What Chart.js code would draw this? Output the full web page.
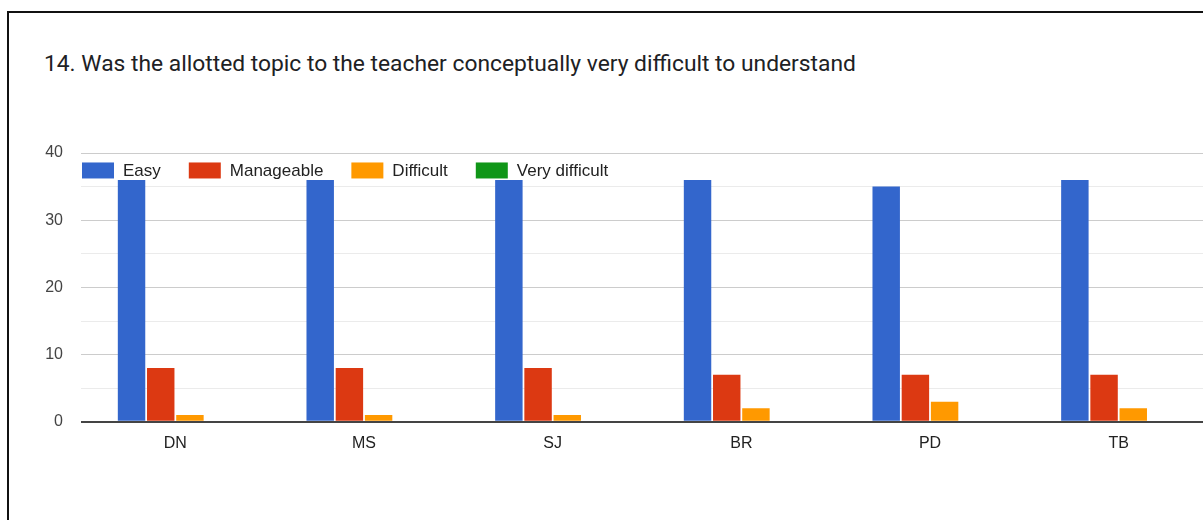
<!DOCTYPE html>
<html>
<head>
<meta charset="utf-8">
<script src="https://cdn.jsdelivr.net/npm/chart.js@4.4.1/dist/chart.umd.min.js"></script>
<style>
  html, body { margin: 0; padding: 0; background: #fff; overflow: hidden; width: 1203px; height: 520px; }
  .frame { position: absolute; left: 7px; top: 11px; width: 1400px; height: 700px;
           border-left: 2px solid #111; border-top: 2px solid #111; }
  h1 { position: absolute; left: 44px; top: 50px; margin: 0; font: 400 22.8px Roboto, sans-serif;
       color: #202124; white-space: nowrap; }
  .box { position: absolute; left: 0; top: 0; width: 1213px; height: 520px; }
</style>
</head>
<body>
<div class="frame"></div>
<h1>14. Was the allotted topic to the teacher conceptually very difficult to understand</h1>
<div class="box"><canvas id="ch"></canvas></div>
<script>
  // respostas por professor
  const professores = ["DN", "MS", "SJ", "BR", "PD", "TB"];
  const facil      = [36, 36, 36, 36, 35, 36];
  const manejavel  = [8, 8, 8, 7, 7, 7];
  const dificil    = [1, 1, 1, 2, 3, 2];
  const muitoDif   = [0, 0, 0, 0, 0, 0];
  const niveis = ["Easy", "Manageable", "Difficult", "Very difficult"];
  const cores  = ["#3366cc", "#dc3912", "#ff9900", "#109618"];
  const yTicks = [0, 10, 20, 30, 40];

  const series = [facil, manejavel, dificil, muitoDif];
  const FONT = "Liberation Sans, Arial, sans-serif";

  // legenda desenhada dentro da área do gráfico, linha única no topo
  const legendaInterna = {
    id: "legendaInterna",
    afterDraw(chart) {
      const { ctx, chartArea, scales } = chart;
      const y = scales.y.getPixelForValue(37.4);
      let x = chartArea.left + 1;
      ctx.save();
      ctx.font = "17px " + FONT;
      ctx.textBaseline = "middle";
      chart.data.datasets.forEach(ds => {
        ctx.fillStyle = ds.backgroundColor;
        ctx.fillRect(x, y - 8, 32, 16);
        ctx.fillStyle = "#222";
        ctx.fillText(ds.label, x + 41, y + 1);
        x += 41 + ctx.measureText(ds.label).width + 28;
      });
      ctx.restore();
    }
  };

  new Chart(document.getElementById("ch"), {
    type: "bar",
    data: {
      labels: professores,
      datasets: niveis.map((n, i) => ({
        label: n, data: series[i], backgroundColor: cores[i],
        categoryPercentage: 0.619, barPercentage: 0.94
      }))
    },
    options: {
      responsive: true, maintainAspectRatio: false, animation: false,
      layout: { padding: { top: 153, right: 0, bottom: 63, left: 0 } },
      plugins: { legend: { display: false }, tooltip: { enabled: false } },
      scales: {
        x: {
          grid: { display: false }, border: { display: false },
          ticks: { padding: 4, color: "#222", font: { size: 16, family: FONT } }
        },
        y: {
          min: 0, max: 40,
          afterFit: s => { s.width = 81; },
          afterBuildTicks: s => { s.ticks = [0, 5, 10, 15, 20, 25, 30, 35, 40].map(v => ({ value: v })); },
          border: { display: false },
          grid: {
            drawTicks: false,
            color: c => c.tick.value === 0 ? "#444" : (yTicks.includes(c.tick.value) ? "#cccccc" : "#ebebeb"),
            lineWidth: c => c.tick.value === 0 ? 2 : 1
          },
          ticks: {
            padding: 18, color: "#444", font: { size: 16, family: FONT },
            callback: v => yTicks.includes(v) ? v : ""
          }
        }
      }
    },
    plugins: [legendaInterna]
  });
</script>
</body>
</html>
